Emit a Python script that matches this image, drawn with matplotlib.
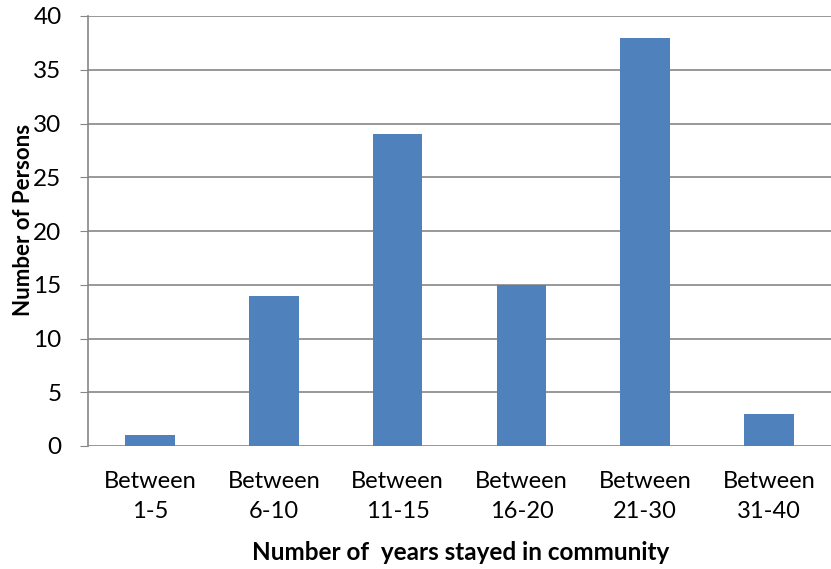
import matplotlib
matplotlib.use("Agg")
import matplotlib.pyplot as plt
import numpy as np

# Years stayed in community vs number of persons
categories = ["Between\n1-5", "Between\n6-10", "Between\n11-15",
              "Between\n16-20", "Between\n21-30", "Between\n31-40"]
persons = [1, 14, 29, 15, 38, 3]
y_ticks = [0, 5, 10, 15, 20, 25, 30, 35, 40]

plt.rcParams["font.family"] = ["Lato", "DejaVu Sans"]

W, H = 831, 569
fig = plt.figure(figsize=(W / 100, H / 100), dpi=100)
ax = fig.add_axes([88 / W, 1 - 446 / H, 743 / W, 430 / H])

x = np.arange(len(categories))
ax.bar(x, persons, width=0.4, color="#4F81BD", zorder=3)

ax.set_xlim(-0.5, len(categories) - 0.5)
ax.set_ylim(0, 40)
ax.set_yticks(y_ticks)
ax.set_xticks(x)
ax.set_xticklabels(categories, fontsize=17, linespacing=1.55)
ax.tick_params(axis="y", labelsize=17.5, length=6, color="#868686", pad=13)
ax.tick_params(axis="x", length=0, pad=18)

ax.grid(axis="y", color="#868686", linewidth=1.2, zorder=0)
for side in ["top", "right", "bottom"]:
    ax.spines[side].set_visible(False)
ax.spines["left"].set_color("#868686")
ax.spines["left"].set_linewidth(1.2)

# axis titles placed in pixel positions
fig.text(24 / W, 1 - 220 / H, "Number of Persons", fontsize=16,
         fontweight="bold", rotation=90, ha="center", va="center")
fig.text(461 / W, 1 - 553 / H, "Number of  years stayed in community",
         fontsize=17.5, fontweight="bold", ha="center", va="center")

fig.savefig("out.png", dpi=100)
